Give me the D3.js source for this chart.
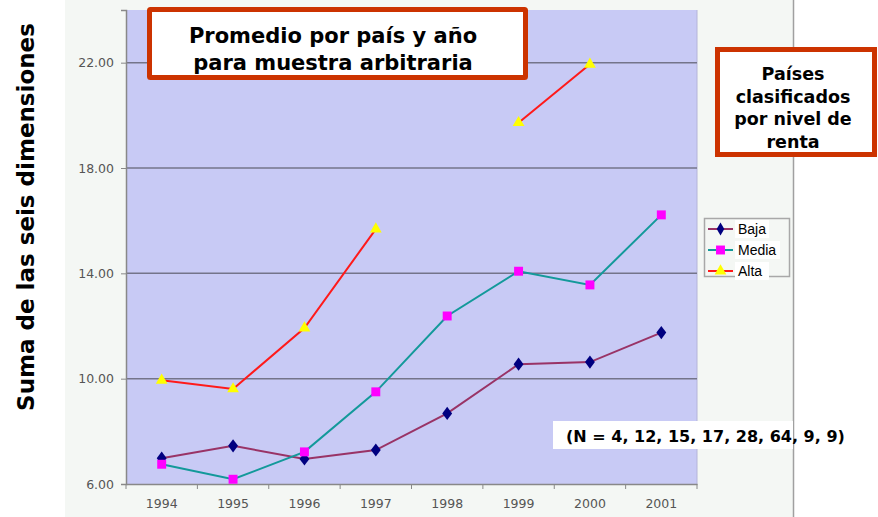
<!DOCTYPE html>
<html>
<head>
<meta charset="utf-8">
<script src="https://cdn.jsdelivr.net/npm/d3@7"></script>
<style>
  body { margin: 0; background: #fff; }
  svg { display: block; }
</style>
</head>
<body>
<div id="chart"></div>
<script>
// data
const years = ["1994", "1995", "1996", "1997", "1998", "1999", "2000", "2001"];
const baja  = [6.98, 7.45, 6.95, 7.29, 8.68, 10.55, 10.63, 11.75];
const media = [6.75, 6.18, 7.22, 9.50, 12.38, 14.08, 13.56, 16.22];
const alta  = [9.94, 9.61, 11.92, 15.68, null, 19.72, 21.94, null];
const yTicks = [6, 10, 14, 18, 22];
const seriesNames = ["Baja", "Media", "Alta"];

const W = 878, H = 517;
const plot = {left: 126, right: 697, top: 10, bottom: 484};

const svg = d3.select("#chart").append("svg")
  .attr("width", W).attr("height", H);

// outer chart area
svg.append("rect")
  .attr("x", 65).attr("y", 0).attr("width", 728).attr("height", H)
  .attr("fill", "#f4f7f4");
svg.append("line")
  .attr("x1", 793.5).attr("x2", 793.5).attr("y1", 0).attr("y2", H)
  .attr("stroke", "#a0a0a0").attr("stroke-width", 1.5);

// plot area
svg.append("rect")
  .attr("x", plot.left).attr("y", plot.top)
  .attr("width", plot.right - plot.left).attr("height", plot.bottom - plot.top)
  .attr("fill", "#c8caf5");
svg.append("line")
  .attr("x1", plot.right).attr("x2", plot.right).attr("y1", plot.top).attr("y2", plot.bottom)
  .attr("stroke", "#b4b4d8");

var x = d3.scaleBand().domain(years).range([plot.left, plot.right]);
var y = d3.scaleLinear().domain([6, 24]).range([plot.bottom, plot.top]);

// gridlines
svg.append("g").selectAll("line")
  .data(yTicks.filter(d => d > 6))
  .enter().append("line")
    .attr("x1", plot.left).attr("x2", plot.right)
    .attr("y1", d => y(d)).attr("y2", d => y(d))
    .attr("stroke", "#74748a").attr("stroke-width", 1.5);

// y axis
var yAxis = svg.append("g")
  .attr("transform", "translate(" + plot.left + ",0)")
  .call(d3.axisLeft(y).tickValues(yTicks).tickFormat(d3.format(".2f")).tickSize(5).tickPadding(7));
yAxis.select(".domain").attr("stroke", "#888").attr("stroke-width", 1.5);
yAxis.selectAll(".tick line").attr("stroke", "#888");
yAxis.selectAll("text")
  .attr("fill", "#555").style("font-family", "Verdana, 'DejaVu Sans', sans-serif").style("font-size", "12.5px");

// x axis, ticks between categories
var xAxis = svg.append("g")
  .attr("transform", "translate(0," + plot.bottom + ")")
  .call(d3.axisBottom(x).tickSize(0).tickPadding(15));
xAxis.select(".domain").attr("stroke", "#888").attr("stroke-width", 1.5);
xAxis.selectAll("text")
  .attr("fill", "#555").style("font-family", "Verdana, 'DejaVu Sans', sans-serif").style("font-size", "12.5px");
xAxis.selectAll(".sep")
  .data(d3.range(years.length + 1))
  .enter().append("line")
    .attr("x1", i => plot.left + i * x.bandwidth())
    .attr("x2", i => plot.left + i * x.bandwidth())
    .attr("y1", 0).attr("y2", 5)
    .attr("stroke", "#888");

// series
const series = [
  {name: "Baja", values: baja, line: "#993366", marker: "#000080", shape: d3.symbolDiamond, size: 50},
  {name: "Media", values: media, line: "#13999a", marker: "#ff00ff", shape: d3.symbolSquare, size: 80},
  {name: "Alta", values: alta, line: "#ff1a1a", marker: "#ffff00", shape: d3.symbolTriangle, size: 60}
];

var line = d3.line()
  .defined(d => d.v != null)
  .x(d => x(d.year) + x.bandwidth() / 2)
  .y(d => y(d.v));

series.forEach(function(s) {
  var pts = years.map((yr, i) => ({year: yr, v: s.values[i]}));
  svg.append("path")
    .datum(pts)
    .attr("d", line)
    .attr("fill", "none")
    .attr("stroke", s.line)
    .attr("stroke-width", 2);
  svg.append("g").selectAll("path")
    .data(pts.filter(d => d.v != null))
    .enter().append("path")
      .attr("d", d3.symbol().type(s.shape).size(s.size))
      .attr("transform", d => "translate(" + (x(d.year) + x.bandwidth() / 2) + "," + y(d.v) + ")" + (s.name == "Baja" ? " scale(1.3,1)" : ""))
      .attr("fill", s.marker);
});

// legend
var legend = svg.append("g");
legend.append("rect")
  .attr("x", 704.5).attr("y", 218.5).attr("width", 85).attr("height", 58)
  .attr("fill", "#f4f7f4").attr("stroke", "#a8a8a8").attr("stroke-width", 1.5);
series.forEach(function(s, i) {
  var ly = 229 + i * 21;
  legend.append("rect")
    .attr("x", 735).attr("y", ly - 9).attr("width", i == 1 ? 45 : 34).attr("height", 18)
    .attr("fill", "#fff");
  legend.append("line")
    .attr("x1", 708).attr("x2", 733).attr("y1", ly).attr("y2", ly)
    .attr("stroke", s.line).attr("stroke-width", 2);
  legend.append("path")
    .attr("d", d3.symbol().type(s.shape).size(s.size))
    .attr("transform", "translate(720.5," + ly + ")")
    .attr("fill", s.marker);
  legend.append("text")
    .attr("x", 738).attr("y", ly + 5)
    .style("font-family", "Arial, 'Liberation Sans', sans-serif").style("font-size", "14px")
    .attr("fill", "#000")
    .text(s.name);
});

// title box
svg.append("rect")
  .attr("x", 149.5).attr("y", 9.5).attr("width", 376).attr("height", 68)
  .attr("fill", "#fff").attr("stroke", "#cc3300").attr("stroke-width", 5).attr("rx", 1);
var title = svg.append("text")
  .attr("text-anchor", "middle")
  .style("font-family", "'DejaVu Sans', Verdana, sans-serif").style("font-weight", "bold").style("font-size", "21px")
  .attr("fill", "#000");
title.append("tspan").attr("x", 333).attr("y", 43).text("Promedio por país y año");
title.append("tspan").attr("x", 333).attr("y", 70).text("para muestra arbitraria");

// side note box
svg.append("rect")
  .attr("x", 717.5).attr("y", 49.5).attr("width", 157).attr("height", 105)
  .attr("fill", "#fff").attr("stroke", "#cc3300").attr("stroke-width", 5);
var note = svg.append("text")
  .attr("text-anchor", "middle")
  .style("font-family", "'DejaVu Sans', Verdana, sans-serif").style("font-weight", "bold").style("font-size", "17.5px")
  .attr("fill", "#000");
["Países", "clasificados", "por nivel de", "renta"].forEach(function(t, i) {
  note.append("tspan").attr("x", 793).attr("y", 80 + i * 22.5).text(t);
});

// N label
svg.append("rect")
  .attr("x", 553).attr("y", 421).attr("width", 240).attr("height", 28)
  .attr("fill", "#fff");
svg.append("text")
  .attr("x", 566).attr("y", 442)
  .style("font-family", "'DejaVu Sans', Verdana, sans-serif").style("font-weight", "bold").style("font-size", "16px")
  .attr("fill", "#000")
  .text("(N = 4, 12, 15, 17, 28, 64, 9, 9)");

// y axis title
svg.append("text")
  .attr("transform", "translate(34,217) rotate(-90)")
  .attr("text-anchor", "middle")
  .style("font-family", "'DejaVu Sans', Verdana, sans-serif").style("font-weight", "bold").style("font-size", "23px")
  .attr("fill", "#000")
  .text("Suma de las seis dimensiones");
</script>
</body>
</html>
